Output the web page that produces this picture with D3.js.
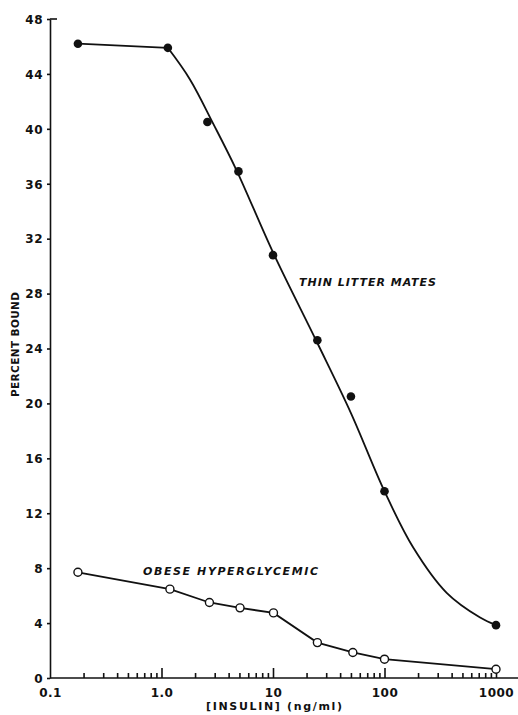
<!DOCTYPE html>
<html>
<head>
<meta charset="utf-8">
<script src="https://cdnjs.cloudflare.com/ajax/libs/d3/7.8.5/d3.min.js"></script>
<style>
  body { margin: 0; background: #fff; }
  svg { display: block; }
  .axis path, .axis line { stroke: #111; stroke-width: 1.6; }
  .axis text { font-family: "DejaVu Sans", sans-serif; font-weight: bold; font-size: 12px; fill: #111; letter-spacing: 0.5px; }
  .label { font-family: "DejaVu Sans", sans-serif; font-weight: bold; fill: #111; }
  .curve { fill: none; stroke: #111; stroke-width: 1.8; }
</style>
</head>
<body>
<div id="chart"></div>
<script>
// Data (insulin ng/ml vs percent bound)
var thinDose   = [0.178, 1.14, 2.58, 4.9, 10, 25, 50, 100, 1000];
var thinBound  = [46.2, 45.9, 40.5, 36.9, 30.8, 24.6, 20.5, 13.6, 3.85];

// hand drawn fit through the thin litter mates points
var thinFitDose  = [1.14, 1.8, 2.9, 4.7, 10, 25, 50, 100, 181, 361, 720, 1000];
var thinFitBound = [45.9, 43.6, 40.4, 37.0, 31.0, 24.4, 19.3, 13.6, 9.5, 6.2, 4.4, 3.85];

var obeseDose  = [0.178, 1.19, 2.69, 5.06, 10.1, 25, 52, 100, 1000];
var obeseBound = [7.7, 6.47, 5.5, 5.11, 4.74, 2.58, 1.86, 1.37, 0.64];

var yTicks      = [0, 4, 8, 12, 16, 20, 24, 28, 32, 36, 40, 44, 48];
var xMajorTicks = [0.1, 1, 10, 100, 1000];
var xTickLabels = ['0.1', '1.0', '10', '100', '1000'];

var width  = 518,
    height = 715;

var svg = d3.select('#chart').append('svg')
  .attr('width', width)
  .attr('height', height);

var x = d3.scaleLog()
  .domain([0.1, 1000])
  .range([50, 496]);

var y = d3.scaleLinear()
  .domain([0, 48])
  .range([678, 19]);

var zip = function(a, b) {
  return a.map(function(d, i) { return {x: d, y: b[i]}; });
};

var thin     = zip(thinDose, thinBound);
var thinFit  = zip(thinFitDose, thinFitBound);
var obese    = zip(obeseDose, obeseBound);

// minor ticks 2..9 of each decade
var minorTicks = [];
[0.1, 1, 10, 100].forEach(function(base) {
  for (var k = 2; k <= 9; k++) minorTicks.push(base * k);
});

// X axis
var xAxisG = svg.append('g')
  .attr('class', 'axis x')
  .attr('transform', 'translate(0,' + y(0) + ')');

xAxisG.append('g')
  .call(d3.axisBottom(x).tickValues(minorTicks).tickSizeInner(-5).tickSizeOuter(0).tickFormat(''))
  .call(function(g) { g.select('.domain').remove(); });

xAxisG.append('g')
  .call(d3.axisBottom(x).tickValues(xMajorTicks.slice(1)).tickSizeInner(-10).tickSizeOuter(0).tickFormat(''))
  .call(function(g) { g.select('.domain').remove(); });

xAxisG.append('g')
  .call(d3.axisBottom(x).tickValues(xMajorTicks).tickSize(0).tickPadding(10)
    .tickFormat(function(d, i) { return xTickLabels[i]; }))
  .call(function(g) { g.select('.domain').remove(); });

xAxisG.append('line')
  .attr('x1', x.range()[0])
  .attr('x2', width)
  .attr('stroke', '#111')
  .attr('stroke-width', 1.6);

// Y axis
var yAxisG = svg.append('g')
  .attr('class', 'axis y')
  .attr('transform', 'translate(' + x(0.1) + ',0)')
  .call(d3.axisLeft(y).tickValues(yTicks).tickSizeInner(3).tickSizeOuter(0).tickPadding(4));

yAxisG.selectAll('.tick text').attr('dy', '0.36em');

// cap at the top of the y axis
yAxisG.append('line')
  .attr('x1', 0)
  .attr('x2', 7)
  .attr('y1', y(48))
  .attr('y2', y(48))
  .attr('stroke', '#111')
  .attr('stroke-width', 1.6);

// Lines
var line = function(curve) {
  return d3.line()
    .x(function(d) { return x(d.x); })
    .y(function(d) { return y(d.y); })
    .curve(curve);
};

svg.append('path')
  .attr('class', 'curve')
  .attr('d', line(d3.curveLinear)(thin.slice(0, 2)));

svg.append('path')
  .attr('class', 'curve')
  .attr('d', line(d3.curveCatmullRom.alpha(0.5))(thinFit));

svg.append('path')
  .attr('class', 'curve')
  .attr('d', line(d3.curveLinear)(obese));

// Points
svg.selectAll('.thin-dot')
  .data(thin)
.enter().append('circle')
  .attr('class', 'thin-dot')
  .attr('cx', function(d) { return x(d.x); })
  .attr('cy', function(d) { return y(d.y); })
  .attr('r', 4.3)
  .attr('fill', '#111');

svg.selectAll('.obese-dot')
  .data(obese)
.enter().append('circle')
  .attr('class', 'obese-dot')
  .attr('cx', function(d) { return x(d.x); })
  .attr('cy', function(d) { return y(d.y); })
  .attr('r', 4)
  .attr('fill', '#fff')
  .attr('stroke', '#111')
  .attr('stroke-width', 1.4);

// Labels
svg.append('text')
  .attr('class', 'label')
  .attr('x', 299)
  .attr('y', 286)
  .attr('font-size', '11px')
  .attr('font-style', 'italic')
  .attr('textLength', 137)
  .attr('lengthAdjust', 'spacing')
  .text('THIN LITTER MATES');

svg.append('text')
  .attr('class', 'label')
  .attr('x', 143)
  .attr('y', 575)
  .attr('font-size', '11px')
  .attr('font-style', 'italic')
  .attr('textLength', 175)
  .attr('lengthAdjust', 'spacing')
  .text('OBESE HYPERGLYCEMIC');

svg.append('text')
  .attr('class', 'label')
  .attr('x', 206)
  .attr('y', 710)
  .attr('font-size', '11px')
  .attr('textLength', 136)
  .attr('lengthAdjust', 'spacing')
  .text('[INSULIN] (ng/ml)');

svg.append('text')
  .attr('class', 'label')
  .attr('transform', 'translate(19,397) rotate(-90)')
  .attr('font-size', '10.5px')
  .attr('textLength', 105)
  .attr('lengthAdjust', 'spacing')
  .text('PERCENT BOUND');
</script>
</body>
</html>
